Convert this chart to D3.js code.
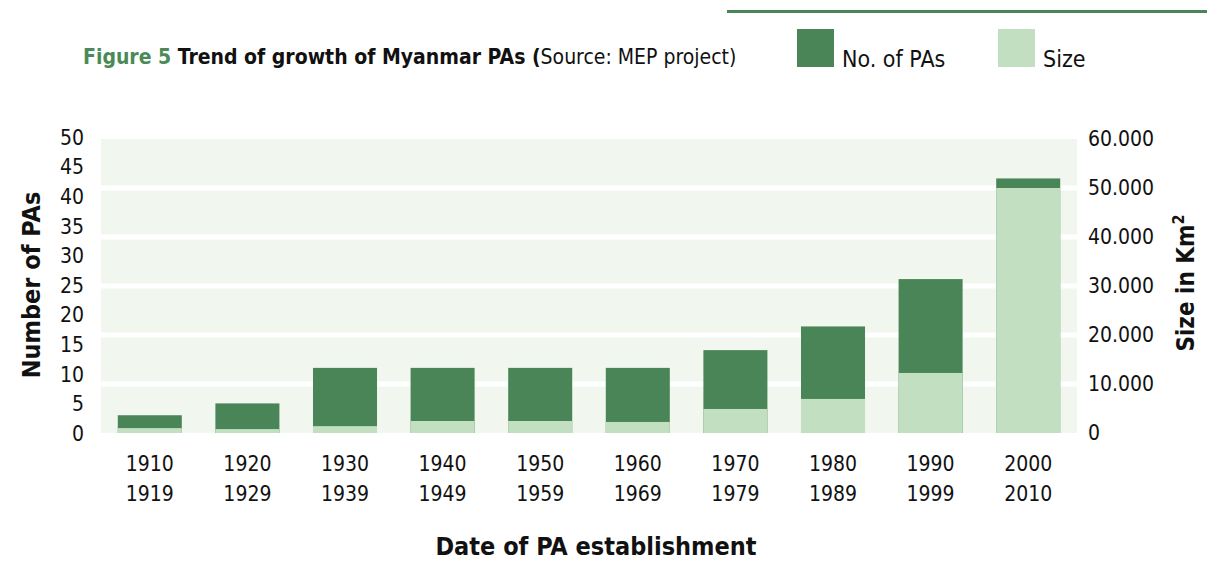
<!DOCTYPE html>
<html>
<head>
<meta charset="utf-8">
<script src="https://cdn.jsdelivr.net/npm/d3@7"></script>
<style>
  body { margin: 0; background: #fff; }
  svg text { font-family: "Liberation Sans Narrow", "DejaVu Sans Condensed", "Open Sans", sans-serif; fill: #111; }
  .tick text { font-size: 21px; }
  .bold { font-weight: bold; }
</style>
</head>
<body>
<script>

// data
var periodStart = ["1910", "1920", "1930", "1940", "1950", "1960", "1970", "1980", "1990", "2000"];
var periodEnd = ["1919", "1929", "1939", "1949", "1959", "1969", "1979", "1989", "1999", "2010"];
var numPAs = [3, 5, 11, 11, 11, 11, 14, 18, 26, 43];
var sizeKm2 = [1000, 800, 1400, 2450, 2450, 2250, 4900, 6950, 12250, 50000];
var leftTicks = [0, 5, 10, 15, 20, 25, 30, 35, 40, 45, 50];
var rightTicks = [0, 10000, 20000, 30000, 40000, 50000, 60000];

var width = 1207, height = 583;
var plot = { left: 101, right: 1077, top: 139, bottom: 433 };

var svg = d3.select("body").append("svg")
    .attr("width", width)
    .attr("height", height);

var x = d3.scaleBand()
    .domain(periodStart)
    .range([plot.left, plot.right])
    .paddingInner(0.344)
    .paddingOuter(0.172);

var yL = d3.scaleLinear().domain([0, 50]).range([plot.bottom, plot.top - 2]);
var yR = d3.scaleLinear().domain([0, 60000]).range([plot.bottom, plot.top]);

var fmt = d3.formatLocale({ decimal: ",", thousands: ".", grouping: [3], currency: ["", ""] }).format(",");

// top rule
svg.append("rect")
    .attr("x", 727).attr("y", 10)
    .attr("width", width - 727).attr("height", 3)
    .attr("fill", "#4a8558");

// title
var title = svg.append("text")
    .attr("x", 83).attr("y", 64)
    .style("font-size", "21px");
title.append("tspan").attr("class", "bold").style("fill", "#4a8a58").text("Figure 5 ");
title.append("tspan").attr("class", "bold").text("Trend of growth of Myanmar PAs (");
title.append("tspan").text("Source: MEP project)");

// legend
var legend = [
    { label: "No. of PAs", color: "#4a8558", x: 797 },
    { label: "Size", color: "#c2dfc2", x: 998 }
];
legend.forEach(function (d) {
    svg.append("rect")
        .attr("x", d.x).attr("y", 29)
        .attr("width", 37).attr("height", 38)
        .attr("fill", d.color);
    svg.append("text")
        .attr("x", d.x + 45).attr("y", 67)
        .style("font-size", "23px")
        .text(d.label);
});

// plot background with white gridlines
svg.append("rect")
    .attr("x", plot.left).attr("y", plot.top)
    .attr("width", plot.right - plot.left).attr("height", plot.bottom - plot.top)
    .attr("fill", "#f1f6ef");

svg.selectAll(".grid")
    .data(rightTicks.slice(1, -1))
    .enter().append("rect")
    .attr("class", "grid")
    .attr("x", plot.left).attr("width", plot.right - plot.left)
    .attr("y", function (d) { return yR(d) - 2.5; })
    .attr("height", 5)
    .attr("fill", "#fff");

// bars: number of PAs (left axis), size drawn over it (right axis)
svg.selectAll(".bar-pa")
    .data(numPAs)
    .enter().append("rect")
    .attr("class", "bar-pa")
    .attr("x", function (d, i) { return x(periodStart[i]); })
    .attr("width", x.bandwidth())
    .attr("y", function (d) { return yL(d); })
    .attr("height", function (d) { return plot.bottom - yL(d); })
    .attr("fill", "#4a8558");

svg.selectAll(".bar-size")
    .data(sizeKm2)
    .enter().append("rect")
    .attr("class", "bar-size")
    .attr("x", function (d, i) { return x(periodStart[i]); })
    .attr("width", x.bandwidth())
    .attr("y", function (d) { return yR(d); })
    .attr("height", function (d) { return plot.bottom - yR(d); })
    .attr("fill", "#c2dfc2");

// left axis
var gL = svg.append("g")
    .attr("transform", "translate(" + (plot.left - 4) + ",0)")
    .call(d3.axisLeft(yL).tickValues(leftTicks).tickSize(0).tickPadding(13));
gL.select(".domain").remove();
gL.selectAll("text").attr("dy", "0.35em");

// right axis
var gR = svg.append("g")
    .attr("transform", "translate(" + (plot.right + 2) + ",0)")
    .call(d3.axisRight(yR).tickValues(rightTicks).tickSize(0).tickPadding(9).tickFormat(fmt));
gR.select(".domain").remove();

// x axis, two-line labels
var gX = svg.append("g")
    .attr("transform", "translate(0," + plot.bottom + ")")
    .call(d3.axisBottom(x).tickSize(0).tickFormat(""));
gX.select(".domain").remove();
gX.selectAll(".tick").each(function (d, i) {
    var t = d3.select(this).append("text")
        .attr("text-anchor", "middle")
        .style("font-size", "21px");
    t.append("tspan").attr("x", 0).attr("y", 38).text(periodStart[i]);
    t.append("tspan").attr("x", 0).attr("y", 68).text(periodEnd[i]);
});

// axis titles
svg.append("text")
    .attr("class", "bold")
    .attr("transform", "translate(40,285) rotate(-90)")
    .attr("text-anchor", "middle")
    .style("font-size", "25px")
    .text("Number of PAs");

var rt = svg.append("text")
    .attr("class", "bold")
    .attr("transform", "translate(1194,283) rotate(-90)")
    .attr("text-anchor", "middle")
    .style("font-size", "24px");
rt.append("tspan").text("Size in Km");
rt.append("tspan").attr("dy", "-10").style("font-size", "16px").text("2");

svg.append("text")
    .attr("class", "bold")
    .attr("x", 596).attr("y", 555)
    .attr("text-anchor", "middle")
    .style("font-size", "25px")
    .text("Date of PA establishment");

</script>
</body>
</html>
